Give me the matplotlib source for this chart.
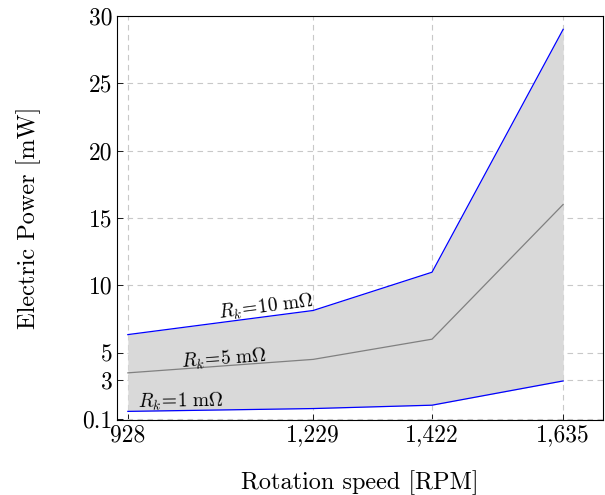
import matplotlib
matplotlib.use("Agg")
import matplotlib.pyplot as plt
import numpy as np

speed = [928, 1229, 1422, 1635]
speed_labels = ["928", "1,229", "1,422", "1,635"]
p_1 = [0.64, 0.85, 1.1, 2.9]
p_5 = [3.5, 4.5, 6.0, 16.0]
p_10 = [6.34, 8.13, 10.97, 29.0]
y_ticks = [0.1, 3, 5, 10, 15, 20, 25, 30]

plt.rcParams['mathtext.fontset'] = 'cm'
plt.rcParams['font.family'] = ['cmr10', 'DejaVu Serif']
plt.rcParams['axes.unicode_minus'] = False

fig = plt.figure(figsize=(6.05, 4.95), dpi=100)
ax = fig.add_axes([0.193, 0.1515, 0.804, 0.8165])

ax.fill_between(speed, p_1, p_10, color='#d9d9d9', lw=0, zorder=1)
ax.plot(speed, p_10, color='blue', lw=0.9, zorder=3)
ax.plot(speed, p_5, color='#808080', lw=0.9, zorder=3)
ax.plot(speed, p_1, color='blue', lw=0.9, zorder=3)

ax.set_xlim(910, 1700)
ax.set_ylim(0, 30)
ax.set_xticks(speed)
ax.set_xticklabels(speed_labels)
ax.set_yticks(y_ticks)
ax.set_yticklabels([str(v) for v in y_ticks])
ax.tick_params(direction='in', labelsize=17, length=4, width=0.6, pad=3)
ax.grid(True, color='#c8c8c8', ls=(0, (5, 4)), lw=0.8)
ax.set_axisbelow(True)
for s in ax.spines.values():
    s.set_linewidth(0.8)

ax.set_xlabel("Rotation speed [RPM]", fontsize=17.5, labelpad=17)
ax.set_ylabel("Electric Power [mW]", fontsize=17.5, labelpad=30)

fig.canvas.draw()

def angle(ys):
    a = ax.transData.transform((speed[0], ys[0]))
    b = ax.transData.transform((speed[1], ys[1]))
    return np.degrees(np.arctan2(b[1] - a[1], b[0] - a[0]))

ax.text(1152, 8.36, r"$R_k\!=\!10\ \mathrm{m}\Omega$", fontsize=14,
        rotation=angle(p_10), ha='center', va='center', rotation_mode='anchor')
ax.text(1084, 4.5, r"$R_k\!=\!5\ \mathrm{m}\Omega$", fontsize=14,
        rotation=angle(p_5), ha='center', va='center', rotation_mode='anchor')
ax.text(1014, 1.35, r"$R_k\!=\!1\ \mathrm{m}\Omega$", fontsize=14,
        rotation=angle(p_1), ha='center', va='center', rotation_mode='anchor')

fig.savefig("out.png", dpi=100)
